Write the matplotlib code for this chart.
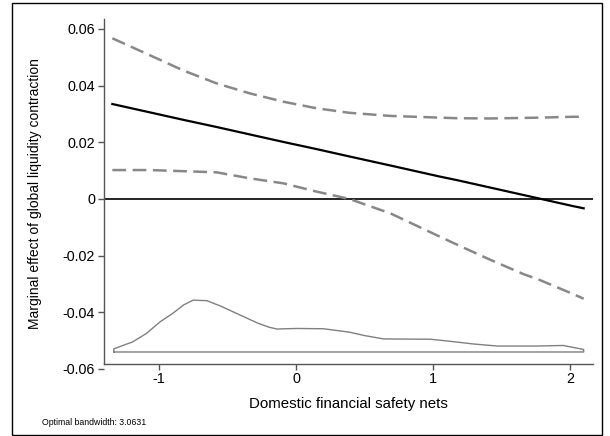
"""Marginal effect of global liquidity contraction across domestic safety nets."""

import matplotlib

matplotlib.use("Agg")

import matplotlib.pyplot as plt
import numpy as np
from matplotlib.patches import Rectangle

plt.rcParams["font.family"] = ["Liberation Sans", "DejaVu Sans"]

# moderator grid and estimated marginal effect with 95% bounds
safety_nets = [-1.34, -1.07, -0.82, -0.58, -0.34, -0.09, 0.15, 0.39, 0.69,
               1.05, 1.17, 1.42, 1.66, 1.78, 2.02, 2.1]
marginal_effect = [0.0335, 0.0306, 0.0279, 0.0254, 0.0228, 0.0201, 0.0176,
                   0.0150, 0.0118, 0.0079, 0.0067, 0.0040, 0.0014, 0.0001,
                   -0.0025, -0.0033]
upper_bound = [0.0567, 0.0508, 0.0453, 0.0408, 0.0373, 0.0343, 0.0320,
               0.0304, 0.0293, 0.0287, 0.0285, 0.0284, 0.0286, 0.0287,
               0.0290, 0.0290]
lower_bound = [0.0102, 0.0102, 0.0098, 0.0094, 0.0073, 0.0055, 0.0026,
               0.0000, -0.0051, -0.0133, -0.0160, -0.0215, -0.0265, -0.0286,
               -0.0335, -0.0352]

# kernel density of the moderator, drawn on the effect scale
density_x = [-1.33, -1.19, -1.09, -0.99, -0.90, -0.82, -0.75, -0.65, -0.55,
             -0.46, -0.37, -0.28, -0.20, -0.14, 0.0, 0.2, 0.39, 0.5, 0.64,
             0.98, 1.12, 1.3, 1.47, 1.76, 1.95, 2.1]
density_y = [-0.0529, -0.0504, -0.0474, -0.0433, -0.0404, -0.0374, -0.0357,
             -0.0359, -0.0378, -0.0398, -0.0418, -0.0438, -0.0452, -0.0459,
             -0.0457, -0.0458, -0.0470, -0.0482, -0.0494, -0.0495, -0.0502,
             -0.0512, -0.0519, -0.0519, -0.0517, -0.0531]
density_base = -0.054

x_ticks = [-1, 0, 1, 2]
y_ticks = [-0.06, -0.04, -0.02, 0, 0.02, 0.04, 0.06]
y_tick_labels = ["-0.06", "-0.04", "-0.02", "0", "0.02", "0.04", "0.06"]

AXIS_GRAY = "#555555"

figure = plt.figure(figsize=(6.1, 4.36), dpi=100)
axis = figure.add_axes([0.1705, 0.1537, 0.8016, 0.8027])

# density outline, closed along its baseline
outline_x = np.concatenate(([density_x[0]], density_x, [density_x[-1], density_x[0]]))
outline_y = np.concatenate(([density_base], density_y, [density_base, density_base]))
axis.plot(outline_x, outline_y, color="#808080", linewidth=1.0)

axis.axhline(0, color="black", linewidth=1.2)
axis.plot(safety_nets, upper_bound, color="#888888", linewidth=1.8,
          dashes=(5.5, 2.6))
axis.plot(safety_nets, lower_bound, color="#888888", linewidth=1.8,
          dashes=(5.5, 2.6))
axis.plot(safety_nets, marginal_effect, color="black", linewidth=1.6)

axis.set_xlim(-1.401, 2.168)
axis.set_ylim(-0.06, 0.0635)
axis.set_xticks(x_ticks, [str(t) for t in x_ticks])
axis.set_yticks(y_ticks, y_tick_labels)

axis.spines["top"].set_visible(False)
axis.spines["right"].set_visible(False)
axis.spines["bottom"].set_position(("data", -0.0582))
axis.spines["left"].set_bounds(-0.0582, 0.0635)
for side in ("bottom", "left"):
    axis.spines[side].set_color(AXIS_GRAY)
    axis.spines[side].set_linewidth(1.0)
axis.tick_params(axis="x", length=4, width=1.0, color=AXIS_GRAY,
                 labelsize=10.4, pad=2)
axis.tick_params(axis="y", length=4.5, width=1.0, color=AXIS_GRAY,
                 labelsize=10.4, pad=2)

axis.set_xlabel("Domestic financial safety nets", fontsize=10.8, labelpad=8)
axis.set_ylabel("Marginal effect of global liquidity contraction",
                fontsize=10, labelpad=15)

figure.text(0.069, 0.032, "Optimal bandwidth: 3.0631", fontsize=6.3,
            va="center")
figure.patches.append(Rectangle((12 / 610, 1 - 435 / 436), 590 / 610,
                                432 / 436, transform=figure.transFigure,
                                fill=False, edgecolor="black", linewidth=1.0))

figure.savefig("out.png", dpi=100)
plt.close(figure)
